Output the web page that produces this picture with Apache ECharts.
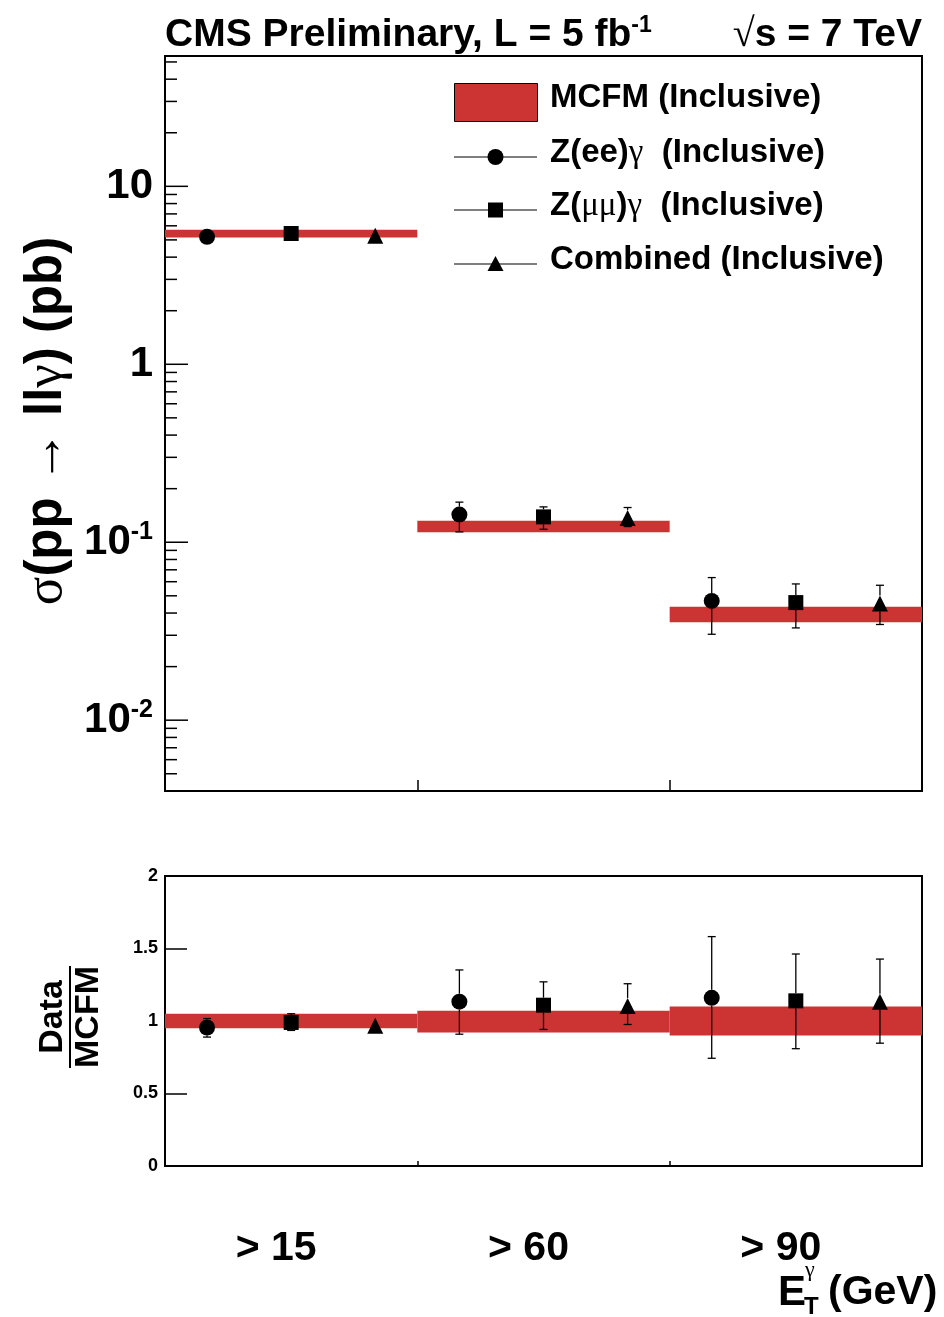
<!DOCTYPE html>
<html>
<head>
<meta charset="utf-8">
<script src="https://cdn.jsdelivr.net/npm/echarts@6/dist/echarts.min.js"></script>
<style>
  html, body { margin: 0; padding: 0; background: #fff; }
  #chart { width: 944px; height: 1317px; }
</style>
</head>
<body>
<div id="chart"></div>
<script>
// Photon ET thresholds (one bin each)
const binLabels = ['> 15', '> 60', '> 90'];

// MCFM prediction (pb) with relative theory uncertainty
const mcfmXsec = [5.43, 0.1235, 0.0394];
const mcfmRelUp = [0.05, 0.07, 0.10];
const mcfmRelDown = [0.05, 0.08, 0.10];

// Measured cross sections (pb) with total uncertainty bounds
const eeXsec = [5.20, 0.143, 0.0468];
const eeXsecLow = [4.87, 0.1143, 0.0304];
const eeXsecHigh = [5.55, 0.168, 0.0633];

const mmXsec = [5.43, 0.1388, 0.0458];
const mmXsecLow = [5.20, 0.1183, 0.0330];
const mmXsecHigh = [5.65, 0.158, 0.0583];

const combXsec = [5.28, 0.137, 0.0452];
const combXsecLow = [5.10, 0.1225, 0.0345];
const combXsecHigh = [5.45, 0.1567, 0.0573];

// Data / MCFM ratios with uncertainty bounds
const eeRatio = [0.955, 1.133, 1.160];
const eeRatioLow = [0.889, 0.909, 0.743];
const eeRatioHigh = [1.017, 1.352, 1.582];

const mmRatio = [0.99, 1.109, 1.139];
const mmRatioLow = [0.935, 0.942, 0.809];
const mmRatioHigh = [1.05, 1.27, 1.462];

const combRatio = [0.967, 1.104, 1.133];
const combRatioLow = [0.94, 0.976, 0.847];
const combRatioHigh = [0.995, 1.257, 1.427];

// Axis tick values
const logMajorTicks = [0.01, 0.1, 1, 10];
const ratioTicks = [0, 0.5, 1, 1.5, 2];

const RED = '#cc3333';
const SANS = '"Liberation Sans", Arial, Helvetica, sans-serif';
const SERIF = '"Liberation Serif", "DejaVu Serif", serif';
const Y_MIN = 0.004, Y_MAX = 54;

// minor ticks of the log axis: 2..9 x 10^k inside the range
const logMinorTicks = [];
for (let e = -3; e <= 1; e++) {
  for (let k = 2; k <= 9; k++) {
    const v = k * Math.pow(10, e);
    if (v > Y_MIN && v < Y_MAX) logMinorTicks.push(v);
  }
}

// each channel sits at its own sub-position inside a bin
const SLOT = { ee: 1 / 6, mm: 1 / 2, comb: 5 / 6 };

function points(vals, slot) {
  return vals.map((v, i) => [i + slot, v]);
}
function bars(vals, lows, highs, slot) {
  return vals.map((v, i) => [i + slot, v, lows[i], highs[i]]);
}

function errorBarRenderer(symbolSize) {
  return function (params, api) {
    const x = api.value(0);
    const c = api.coord([x, api.value(1)]);
    const lo = api.coord([x, api.value(2)]);
    const hi = api.coord([x, api.value(3)]);
    const half = symbolSize / 2;
    const cap = 4;
    const style = { stroke: '#000', lineWidth: 1.3 };
    const children = [];
    if (hi[1] < c[1] - half) {
      children.push({ type: 'line', shape: { x1: c[0], y1: c[1] - half, x2: c[0], y2: hi[1] }, style });
      children.push({ type: 'line', shape: { x1: c[0] - cap, y1: hi[1], x2: c[0] + cap, y2: hi[1] }, style });
    }
    if (lo[1] > c[1] + half) {
      children.push({ type: 'line', shape: { x1: c[0], y1: c[1] + half, x2: c[0], y2: lo[1] }, style });
      children.push({ type: 'line', shape: { x1: c[0] - cap, y1: lo[1], x2: c[0] + cap, y2: lo[1] }, style });
    }
    return { type: 'group', children };
  };
}

function bandRenderer(params, api) {
  const i = api.value(0);
  const p0 = api.coord([i, api.value(2)]);
  const p1 = api.coord([i + 1, api.value(1)]);
  return {
    type: 'rect',
    shape: { x: p0[0], y: p0[1], width: p1[0] - p0[0], height: p1[1] - p0[1] },
    style: { fill: RED }
  };
}

function tickRenderer(len) {
  return function (params, api) {
    const p = api.coord([0, api.value(1)]);
    return {
      type: 'line',
      shape: { x1: p[0], y1: p[1], x2: p[0] + len, y2: p[1] },
      style: { stroke: '#000', lineWidth: 1.5 }
    };
  };
}

function logLabel(v) {
  const e = Math.round(Math.log10(v));
  if (Math.abs(Math.log10(v) - e) > 1e-6) return '';
  if (e === 1) return '{m|10}';
  if (e === 0) return '{m|1}';
  return '{m|10}{s|' + e + '}';
}

const topBand = mcfmXsec.map((v, i) => [i, v * (1 - mcfmRelDown[i]), v * (1 + mcfmRelUp[i])]);
const ratioBand = mcfmXsec.map((v, i) => [i, 1 - mcfmRelDown[i], 1 + mcfmRelUp[i]]);

const channels = [
  { key: 'ee', symbol: 'circle', size: 16, top: [eeXsec, eeXsecLow, eeXsecHigh], ratio: [eeRatio, eeRatioLow, eeRatioHigh] },
  { key: 'mm', symbol: 'rect', size: 15, top: [mmXsec, mmXsecLow, mmXsecHigh], ratio: [mmRatio, mmRatioLow, mmRatioHigh] },
  { key: 'comb', symbol: 'triangle', size: 16, top: [combXsec, combXsecLow, combXsecHigh], ratio: [combRatio, combRatioLow, combRatioHigh] }
];

const series = [
  { type: 'custom', xAxisIndex: 0, yAxisIndex: 0, z: 1, silent: true, renderItem: bandRenderer, data: topBand },
  { type: 'custom', xAxisIndex: 1, yAxisIndex: 1, z: 1, silent: true, renderItem: bandRenderer, data: ratioBand },
  { type: 'custom', xAxisIndex: 0, yAxisIndex: 0, z: 5, silent: true, renderItem: tickRenderer(23), data: logMajorTicks.map(v => [0, v]) },
  { type: 'custom', xAxisIndex: 0, yAxisIndex: 0, z: 5, silent: true, renderItem: tickRenderer(12), data: logMinorTicks.map(v => [0, v]) }
];

channels.forEach(ch => {
  const slot = SLOT[ch.key];
  [[0, ch.top], [1, ch.ratio]].forEach(([g, arr]) => {
    series.push({
      type: 'custom', xAxisIndex: g, yAxisIndex: g, z: 2, silent: true,
      renderItem: errorBarRenderer(ch.size),
      data: bars(arr[0], arr[1], arr[2], slot)
    });
    series.push({
      type: 'scatter', xAxisIndex: g, yAxisIndex: g, z: 3, silent: true,
      symbol: ch.symbol, symbolSize: ch.size,
      itemStyle: { color: '#000', opacity: 1 },
      data: points(arr[0], slot)
    });
  });
});

const frameAxis = {
  type: 'value', min: 0, max: 3, interval: 1,
  axisLine: { lineStyle: { color: '#000', width: 2 } },
  axisLabel: { show: false },
  splitLine: { show: false }
};

// legend entries
const LEG_X = 454, LEG_W = 83, LEG_TX = 550;
const legendRows = [
  { text: '{b|Z(ee)}{g|γ}{b|  (Inclusive)}', y: 157, marker: 'circle' },
  { text: '{b|Z(}{g|μμ}{b|)}{g|γ}{b|  (Inclusive)}', y: 210, marker: 'rect' },
  { text: '{b|Combined (Inclusive)}', y: 264, marker: 'triangle' }
];
const legendRich = {
  b: { fontFamily: SANS, fontWeight: 'bold', fontSize: 33, fill: '#000' },
  g: { fontFamily: SERIF, fontWeight: 'normal', fontSize: 33, fill: '#000' }
};
const graphics = [
  { type: 'rect', left: LEG_X, top: 83, shape: { width: LEG_W, height: 38 }, style: { fill: RED, stroke: '#000', lineWidth: 1 } },
  { type: 'text', x: LEG_TX, y: 98, style: { text: '{b|MCFM (Inclusive)}', rich: legendRich, verticalAlign: 'middle', align: 'left' } }
];
legendRows.forEach(r => {
  const cx = LEG_X + LEG_W / 2;
  graphics.push({ type: 'line', shape: { x1: LEG_X, y1: r.y, x2: LEG_X + LEG_W, y2: r.y }, style: { stroke: '#000', lineWidth: 1.2 } });
  if (r.marker === 'circle') graphics.push({ type: 'circle', shape: { cx, cy: r.y, r: 8 }, style: { fill: '#000' } });
  if (r.marker === 'rect') graphics.push({ type: 'rect', shape: { x: cx - 7.5, y: r.y - 7.5, width: 15, height: 15 }, style: { fill: '#000' } });
  if (r.marker === 'triangle') graphics.push({ type: 'polygon', shape: { points: [[cx, r.y - 8], [cx + 8, r.y + 7], [cx - 8, r.y + 7]] }, style: { fill: '#000' } });
  graphics.push({ type: 'text', x: LEG_TX, y: r.y - 4, style: { text: r.text, rich: legendRich, verticalAlign: 'middle', align: 'left' } });
});

// header
graphics.push({
  type: 'text', x: 165, y: 35,
  style: {
    text: '{b|CMS Preliminary, L = 5 fb}{s|-1}', align: 'left', verticalAlign: 'middle',
    rich: {
      b: { fontFamily: SANS, fontWeight: 'bold', fontSize: 39, fill: '#000', lineHeight: 42 },
      s: { fontFamily: SANS, fontWeight: 'bold', fontSize: 23, fill: '#000', verticalAlign: 'top', lineHeight: 42 }
    }
  }
});
graphics.push({
  type: 'text', x: 922, y: 35,
  style: {
    text: '{g|√}{b|s = 7 TeV}', align: 'right', verticalAlign: 'middle',
    rich: {
      b: { fontFamily: SANS, fontWeight: 'bold', fontSize: 39, fill: '#000' },
      g: { fontFamily: SERIF, fontWeight: 'normal', fontSize: 40, fill: '#000' }
    }
  }
});

// y title of the upper panel
graphics.push({
  type: 'text', x: 47, y: 421, rotation: Math.PI / 2,
  style: {
    text: '{g|σ}{b|(pp }{g|→}{b| ll}{g|γ}{b|) (pb)}', align: 'center', verticalAlign: 'middle',
    rich: {
      b: { fontFamily: SANS, fontWeight: 'bold', fontSize: 51, fill: '#000' },
      g: { fontFamily: SERIF, fontWeight: 'normal', fontSize: 53, fill: '#000' }
    }
  }
});

// y title of the ratio panel (stacked fraction)
graphics.push({
  type: 'group', x: 70, y: 1017, rotation: Math.PI / 2,
  children: [
    { type: 'text', x: 0, y: -17, style: { text: 'Data', font: 'bold 34px ' + SANS, fill: '#000', align: 'center', verticalAlign: 'middle' } },
    { type: 'line', shape: { x1: -51, y1: 0, x2: 51, y2: 0 }, style: { stroke: '#000', lineWidth: 2 } },
    { type: 'text', x: 0, y: 19, style: { text: 'MCFM', font: 'bold 34px ' + SANS, fill: '#000', align: 'center', verticalAlign: 'middle' } }
  ]
});

// x title
graphics.push({ type: 'text', x: 778, y: 1293, style: { text: 'E', font: 'bold 42px ' + SANS, fill: '#000', align: 'left', verticalAlign: 'middle' } });
graphics.push({ type: 'text', x: 805, y: 1270, style: { text: 'γ', font: 'normal 22px ' + SERIF, fill: '#000', align: 'left', verticalAlign: 'middle' } });
graphics.push({ type: 'text', x: 804, y: 1307, style: { text: 'T', font: 'bold 24px ' + SANS, fill: '#000', align: 'left', verticalAlign: 'middle' } });
graphics.push({ type: 'text', x: 828, y: 1293, style: { text: '(GeV)', font: 'bold 41px ' + SANS, fill: '#000', align: 'left', verticalAlign: 'middle' } });

const option = {
  backgroundColor: '#fff',
  animation: false,
  grid: [
    { left: 165, top: 56, width: 757, height: 735, show: true, borderColor: '#000', borderWidth: 2, backgroundColor: 'transparent' },
    { left: 165, top: 876, width: 757, height: 290, show: true, borderColor: '#000', borderWidth: 2, backgroundColor: 'transparent' }
  ],
  xAxis: [
    Object.assign({}, frameAxis, { gridIndex: 0, axisTick: { inside: true, length: 11, lineStyle: { color: '#000', width: 1.5 } } }),
    Object.assign({}, frameAxis, { gridIndex: 1, axisTick: { inside: true, length: 5, lineStyle: { color: '#000', width: 1.5 } } }),
    {
      type: 'category', gridIndex: 1, data: binLabels, position: 'bottom',
      axisLine: { show: false }, axisTick: { show: false }, splitLine: { show: false },
      axisLabel: {
        margin: 62, padding: [0, 30, 0, 0],
        fontFamily: SANS, fontWeight: 'bold', fontSize: 41, color: '#000'
      }
    }
  ],
  yAxis: [
    {
      type: 'log', gridIndex: 0, min: Y_MIN, max: Y_MAX, logBase: 10,
      axisLine: { lineStyle: { color: '#000', width: 2 } },
      axisTick: { show: false },
      splitLine: { show: false },
      axisLabel: {
        margin: 12, showMinLabel: false, showMaxLabel: false,
        formatter: logLabel,
        rich: {
          m: { fontFamily: SANS, fontWeight: 'bold', fontSize: 42, color: '#000', lineHeight: 46 },
          s: { fontFamily: SANS, fontWeight: 'bold', fontSize: 25, color: '#000', verticalAlign: 'top', lineHeight: 46 }
        }
      }
    },
    {
      type: 'value', gridIndex: 1, min: 0, max: 2, interval: 0.5,
      axisLine: { lineStyle: { color: '#000', width: 2 } },
      axisTick: { inside: true, length: 22, lineStyle: { color: '#000', width: 1.5 } },
      splitLine: { show: false },
      axisLabel: {
        margin: 7, fontFamily: SANS, fontWeight: 'bold', fontSize: 18, color: '#000',
        formatter: v => (ratioTicks.indexOf(v) >= 0 ? String(v) : '')
      }
    }
  ],
  graphic: graphics,
  series: series
};

const chart = echarts.init(document.getElementById('chart'));
chart.setOption(option);
</script>
</body>
</html>
